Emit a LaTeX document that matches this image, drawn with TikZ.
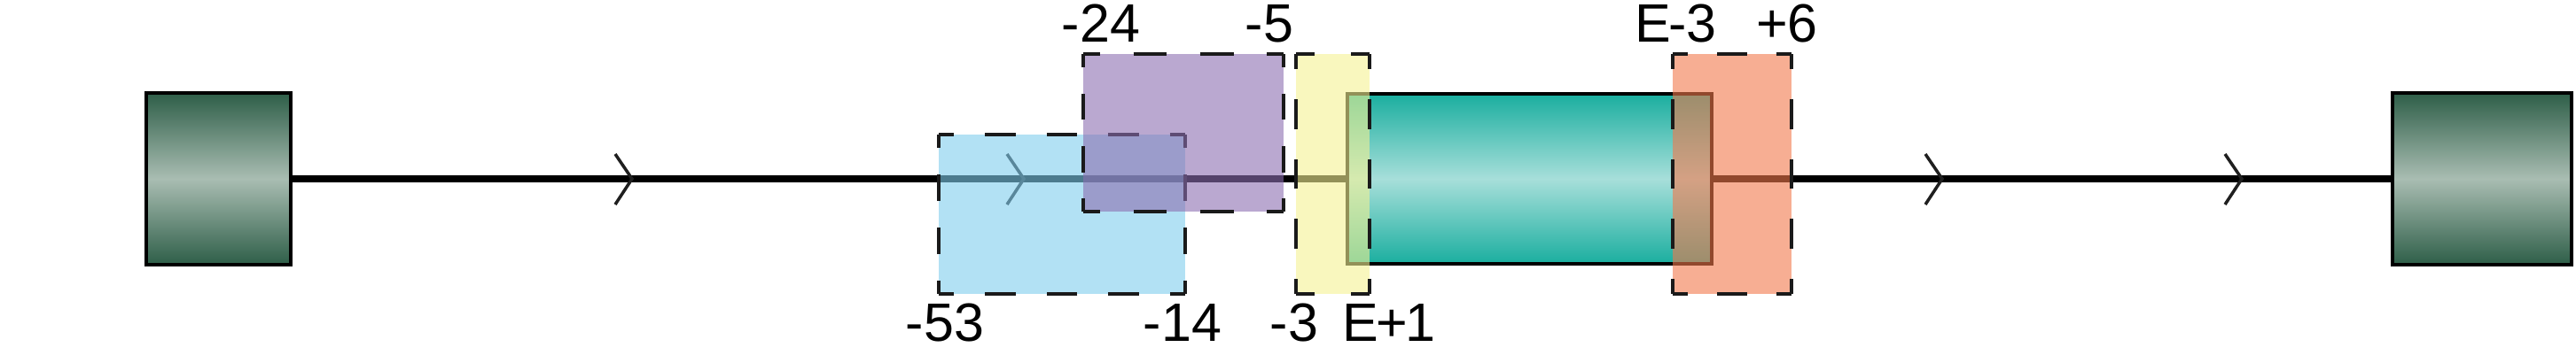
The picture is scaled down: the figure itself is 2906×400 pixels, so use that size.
\documentclass[tikz,border=0pt]{standalone}
\usepackage{fontspec}
\setmainfont{Liberation Sans}
\usetikzlibrary{decorations.markings}
\definecolor{gdark}{HTML}{2E5E48}
\definecolor{glight}{HTML}{A9BDB2}
\definecolor{tdark}{HTML}{1AAE9F}
\definecolor{tlight}{HTML}{A7DFDA}
\definecolor{ovblue}{RGB}{128,205,238}
\definecolor{ovpurple}{RGB}{140,110,177}
\definecolor{ovyellow}{RGB}{245,242,147}
\definecolor{ovorange}{RGB}{243,120,75}
\definecolor{dashcol}{HTML}{1A1A1A}
\newcommand\dashedge[4]{%
  \pgfmathsetmacro\dlen{veclen(#3-#1,#4-#2)}%
  \pgfmathsetmacro\dn{max(1,round(\dlen/70))}%
  \pgfmathsetmacro\dd{\dlen/(2*\dn)}%
  \pgfmathsetmacro\dph{\dd/2}%
  \draw[dashline, dash pattern=on \dd pt off \dd pt, dash phase=\dph pt] (#1,#2) -- (#3,#4);}
\newcommand\regionbox[6]{%
  \node[region, fill=#2, minimum width={#5-#3}, minimum height={#6-#4}] (#1) at ({(#3+#5)/2},{(#4+#6)/2}) {};
  \dashedge{#3}{#4}{#5}{#4}
  \dashedge{#5}{#4}{#5}{#6}
  \dashedge{#5}{#6}{#3}{#6}
  \dashedge{#3}{#6}{#3}{#4}}
\begin{document}
\begin{tikzpicture}[x=1pt,y=-1pt,
  endbox/.style={draw=black, line width=4pt, top color=gdark, bottom color=gdark, middle color=glight, inner sep=0pt, outer sep=0pt},
  exonbox/.style={draw=black, line width=4pt, top color=tdark, bottom color=tdark, middle color=tlight, inner sep=0pt, outer sep=0pt},
  region/.style={draw=none, fill opacity=0.6, inner sep=0pt, outer sep=0pt},
  dashline/.style={draw=dashcol, line width=4pt},
  mainline/.style={draw=black, line width=8pt},
  chev/.style={draw=black!88, line width=3.5pt, line join=miter},
  lbl/.style={anchor=base, inner sep=0pt, font=\fontsize{61}{63}\selectfont}]
\fill[white] (0,0) rectangle (2906,400);
\useasboundingbox (0,0) rectangle (2906,400);
% end boxes
\node[endbox, minimum width=163, minimum height=194] (L) at (246.5,202) {};
\node[endbox, minimum width=202, minimum height=194] (R) at (2800,202) {};
% connector with direction marks
\draw[mainline, postaction={decorate}, decoration={markings,
   mark=at position 385pt with {\draw[chev] (-19,-28) -- (0,0) -- (-19,29);},
   mark=at position 827pt with {\draw[chev] (-19,-28) -- (0,0) -- (-19,29);},
   mark=at position 1863pt with {\draw[chev] (-19,-28) -- (0,0) -- (-19,29);},
   mark=at position 2201pt with {\draw[chev] (-19,-28) -- (0,0) -- (-19,29);}}]
   (L.east) -- (R.west);
% exon
\node[exonbox, minimum width=411, minimum height=192] (E) at (1725.5,202) {};
% overlay regions
\regionbox{blue}{ovblue}{1059}{152}{1337}{332}
\regionbox{purple}{ovpurple}{1222}{61}{1448}{239}
\regionbox{yellow}{ovyellow}{1462}{61}{1545}{332}
\regionbox{orange}{ovorange}{1887}{61}{2021}{332}
% labels
\node[lbl] (t24) at (1242,47) {-24};
\node[lbl] (t5) at (1432,47) {-5};
\node[lbl] (tE3) at (1890,47) {E\kern-2pt-\kern-1pt3};
\node[lbl] (t6) at (2016,47) {+6};
\node[lbl] (b53) at (1066,385) {-53};
\node[lbl] (b14) at (1334,385) {-14};
\node[lbl] (b3) at (1460,385) {-3};
\node[lbl] (bE1) at (1567,385) {E\kern-3pt+\kern-2pt1};
\end{tikzpicture}
\end{document}
